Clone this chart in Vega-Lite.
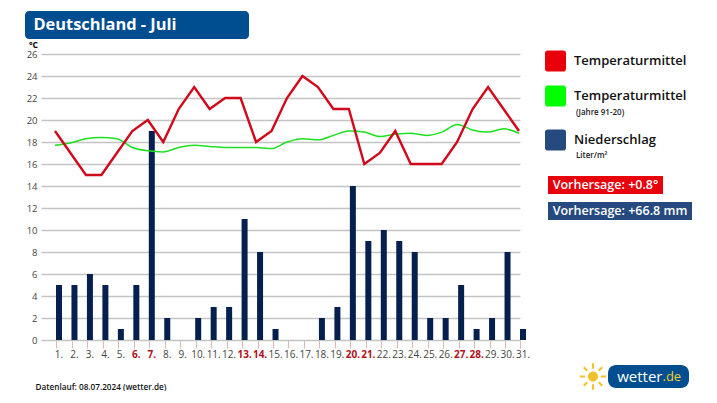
{
  "$schema": "https://vega.github.io/schema/vega-lite/v6.json",
  "background": "white",
  "padding": {"left": 25, "top": 11, "right": 0, "bottom": 0},
  "autosize": {"type": "pad"},
  "spacing": 1,
  "config": {"view": {"stroke": null}, "text": {"font": "Open Sans"}, "axis": {"labelFont": "Open Sans", "titleFont": "Open Sans"}},
  "datasets": {
    "days": [
      {"day": 1, "temp": 19, "normal": 17.7, "rain": 5},
      {"day": 2, "temp": 17, "normal": 17.9, "rain": 5},
      {"day": 3, "temp": 15, "normal": 18.3, "rain": 6},
      {"day": 4, "temp": 15, "normal": 18.4, "rain": 5},
      {"day": 5, "temp": 17, "normal": 18.3, "rain": 1},
      {"day": 6, "temp": 19, "normal": 17.5, "rain": 5},
      {"day": 7, "temp": 20, "normal": 17.2, "rain": 19},
      {"day": 8, "temp": 18, "normal": 17.1, "rain": 2},
      {"day": 9, "temp": 21, "normal": 17.5, "rain": 0},
      {"day": 10, "temp": 23, "normal": 17.7, "rain": 2},
      {"day": 11, "temp": 21, "normal": 17.6, "rain": 3},
      {"day": 12, "temp": 22, "normal": 17.5, "rain": 3},
      {"day": 13, "temp": 22, "normal": 17.5, "rain": 11},
      {"day": 14, "temp": 18, "normal": 17.5, "rain": 8},
      {"day": 15, "temp": 19, "normal": 17.4, "rain": 1},
      {"day": 16, "temp": 22, "normal": 18.0, "rain": 0},
      {"day": 17, "temp": 24, "normal": 18.3, "rain": 0},
      {"day": 18, "temp": 23, "normal": 18.2, "rain": 2},
      {"day": 19, "temp": 21, "normal": 18.6, "rain": 3},
      {"day": 20, "temp": 21, "normal": 19.0, "rain": 14},
      {"day": 21, "temp": 16, "normal": 18.9, "rain": 9},
      {"day": 22, "temp": 17, "normal": 18.5, "rain": 10},
      {"day": 23, "temp": 19, "normal": 18.7, "rain": 9},
      {"day": 24, "temp": 16, "normal": 18.8, "rain": 8},
      {"day": 25, "temp": 16, "normal": 18.6, "rain": 2},
      {"day": 26, "temp": 16, "normal": 18.9, "rain": 2},
      {"day": 27, "temp": 18, "normal": 19.6, "rain": 5},
      {"day": 28, "temp": 21, "normal": 19.1, "rain": 1},
      {"day": 29, "temp": 23, "normal": 18.9, "rain": 2},
      {"day": 30, "temp": 21, "normal": 19.2, "rain": 8},
      {"day": 31, "temp": 19, "normal": 18.8, "rain": 1}
    ],
    "legend": [
      {"order": 0, "label": "Temperaturmittel", "kind": "main", "swatch": "#e8000b"},
      {"order": 1, "label": "Temperaturmittel", "kind": "main", "swatch": "#00ff00"},
      {"order": 2, "label": "(Jahre 91-20)", "kind": "sub"},
      {"order": 3, "label": "Niederschlag", "kind": "main", "swatch": "#264a80"},
      {"order": 4, "label": "Liter/m²", "kind": "sub"}
    ]
  },
  "vconcat": [
    {
      "width": 224,
      "height": 28,
      "view": {"fill": "#004d90", "cornerRadius": 4},
      "data": {"values": [{"label": "Deutschland - Juli"}]},
      "mark": {"type": "text", "fontSize": 16.4, "fontWeight": "bold", "color": "white", "dx": -32, "dy": 0},
      "encoding": {"text": {"field": "label"}}
    },
    {
      "bounds": "flush",
      "spacing": 0,
      "hconcat": [
        {"width": 16, "height": 308, "data": {"values": [{}]}, "mark": {"type": "text"}},
        {
          "width": 479,
          "height": 286,
          "data": {"name": "days"},
          "encoding": {
            "x": {
              "field": "day",
              "type": "quantitative",
              "scale": {"domain": [0.095, 31.065], "nice": false, "zero": false, "padding": 0},
              "axis": {
                "title": null,
                "grid": false,
                "domain": false,
                "values": [1,2,3,4,5,6,7,8,9,10,11,12,13,14,15,16,17,18,19,20,21,22,23,24,25,26,27,28,29,30,31],
                "labelExpr": "datum.value + '.'",
                "labelFlush": false,
                "labelOverlap": false,
                "labelFontSize": 10,
                "labelPadding": 1,
                "labelOffset": 2,
                "tickOffset": 1.5,
                "tickSize": 8,
                "tickColor": "#dcb8b8",
                "labelColor": {"condition": {"test": "indexof([6,7,13,14,20,21,27,28], datum.value) >= 0", "value": "#b01020"}, "value": "#444444"},
                "labelFontWeight": {"condition": {"test": "indexof([6,7,13,14,20,21,27,28], datum.value) >= 0", "value": "bold"}, "value": "normal"}
              }
            }
          },
          "layer": [
            {
              "mark": {"type": "bar", "width": 6, "xOffset": 4, "color": "#05204f"},
              "encoding": {
                "y": {
                  "field": "rain",
                  "type": "quantitative",
                  "scale": {"domain": [0, 26], "nice": false},
                  "axis": {
                    "title": "°C",
                    "titleAngle": 0,
                    "titleX": -8,
                    "titleY": -5,
                    "titleFontSize": 8.5,
                    "titleFontWeight": "bold",
                    "titleColor": "#000000",
                    "values": [0,2,4,6,8,10,12,14,16,18,20,22,24,26],
                    "domain": false,
                    "ticks": false,
                    "labelOverlap": false,
                    "labelFontSize": 9.5,
                    "labelColor": "#444444",
                    "labelPadding": 4,
                    "gridColor": "#c4c4c4",
                    "gridWidth": 1.4,
                    "zindex": 0
                  }
                }
              }
            },
            {
              "mark": {"type": "line", "color": "#1fe01f", "strokeWidth": 1.5, "interpolate": "monotone"},
              "encoding": {
                "y": {
                  "field": "normal",
                  "type": "quantitative",
                  "axis": {
                    "title": "°C",
                    "titleAngle": 0,
                    "titleX": -8,
                    "titleY": -5,
                    "titleFontSize": 8.5,
                    "titleFontWeight": "bold",
                    "titleColor": "#000000",
                    "values": [0,2,4,6,8,10,12,14,16,18,20,22,24,26],
                    "domain": false,
                    "ticks": false,
                    "labelOverlap": false,
                    "labelFontSize": 9.5,
                    "labelColor": "#444444",
                    "labelPadding": 4,
                    "gridColor": "#c4c4c4",
                    "gridWidth": 1.4,
                    "zindex": 0
                  }
                }
              }
            },
            {
              "mark": {"type": "line", "color": "#d00a1c", "strokeWidth": 2.4},
              "encoding": {
                "y": {
                  "field": "temp",
                  "type": "quantitative",
                  "axis": {
                    "title": "°C",
                    "titleAngle": 0,
                    "titleX": -8,
                    "titleY": -5,
                    "titleFontSize": 8.5,
                    "titleFontWeight": "bold",
                    "titleColor": "#000000",
                    "values": [0,2,4,6,8,10,12,14,16,18,20,22,24,26],
                    "domain": false,
                    "ticks": false,
                    "labelOverlap": false,
                    "labelFontSize": 9.5,
                    "labelColor": "#444444",
                    "labelPadding": 4,
                    "gridColor": "#c4c4c4",
                    "gridWidth": 1.4,
                    "zindex": 0
                  }
                }
              }
            }
          ]
        },
        {"width": 28, "height": 1, "data": {"values": [{}]}, "mark": {"type": "text"}},
        {
          "bounds": "flush",
          "spacing": 8,
          "vconcat": [
            {
              "width": 150,
              "height": 114,
              "data": {"name": "legend"},
              "encoding": {
                "y": {
                  "field": "order",
                  "type": "quantitative",
                  "axis": null,
                  "scale": {"domain": [0, 1, 2, 3, 4], "range": [7, 42, 59, 86, 102], "nice": false, "zero": false}
                }
              },
              "layer": [
                {
                  "transform": [{"filter": "datum.swatch"}],
                  "mark": {"type": "point", "filled": true, "opacity": 1, "size": 441, "shape": "M-0.75,-1 H0.75 A0.25,0.25 0 0 1 1,-0.75 V0.75 A0.25,0.25 0 0 1 0.75,1 H-0.75 A0.25,0.25 0 0 1 -1,0.75 V-0.75 A0.25,0.25 0 0 1 -0.75,-1 Z"},
                  "encoding": {
                    "x": {"datum": 7.5, "type": "quantitative", "scale": {"domain": [0, 150], "nice": false}, "axis": null},
                    "color": {"field": "swatch", "type": "nominal", "scale": null}
                  }
                },
                {
                  "transform": [{"filter": "datum.kind == 'main'"}],
                  "mark": {"type": "text", "align": "left", "fontSize": 13, "fontWeight": 600, "color": "#111111"},
                  "encoding": {"x": {"datum": 26, "type": "quantitative"}, "text": {"field": "label"}}
                },
                {
                  "transform": [{"filter": "datum.kind == 'sub'"}],
                  "mark": {"type": "text", "align": "left", "fontSize": 8, "fontWeight": 600, "color": "#222222"},
                  "encoding": {"x": {"datum": 28, "type": "quantitative"}, "text": {"field": "label"}}
                }
              ]
            },
            {
              "width": 115,
              "height": 18,
              "view": {"fill": "#e8000b"},
              "data": {"values": [{"label": "Vorhersage: +0.8°"}]},
              "mark": {"type": "text", "fontSize": 12.5, "fontWeight": 600, "color": "white"},
              "encoding": {"text": {"field": "label"}}
            },
            {
              "width": 144,
              "height": 18,
              "view": {"fill": "#264a80"},
              "data": {"values": [{"label": "Vorhersage: +66.8 mm"}]},
              "mark": {"type": "text", "fontSize": 12.5, "fontWeight": 600, "color": "white"},
              "encoding": {"text": {"field": "label"}}
            }
          ]
        }
      ]
    },
    {
      "bounds": "flush",
      "spacing": 0,
      "hconcat": [
        {
          "width": 553,
          "height": 23,
          "data": {"values": [{"label": "Datenlauf: 08.07.2024 (wetter.de)"}]},
          "mark": {"type": "text", "align": "left", "fontSize": 8.2, "fontWeight": 600, "color": "#111111", "dx": -266, "dy": 11},
          "encoding": {"text": {"field": "label"}}
        },
        {
          "width": 30,
          "height": 23,
          "data": {"values": [{"label": "sun"}]},
          "mark": {"type": "point", "filled": true, "opacity": 1, "size": 700, "color": "#f2c22e", "shape": "M0.38,0 A0.38,0.38 0 1 1 -0.38,0 A0.38,0.38 0 1 1 0.38,0 Z M-0.08,-1 H0.08 V-0.58 H-0.08 Z M-0.08,0.58 H0.08 V1 H-0.08 Z M-1,-0.08 H-0.58 V0.08 H-1 Z M0.58,-0.08 H1 V0.08 H0.58 Z M-0.75,-0.64 L-0.64,-0.75 L-0.38,-0.49 L-0.49,-0.38 Z M0.64,-0.75 L0.75,-0.64 L0.49,-0.38 L0.38,-0.49 Z M-0.64,0.75 L-0.75,0.64 L-0.49,0.38 L-0.38,0.49 Z M0.75,0.64 L0.64,0.75 L0.38,0.49 L0.49,0.38 Z"}
        },
        {
          "width": 81,
          "height": 23,
          "view": {"fill": "#004d90", "cornerRadius": 8},
          "data": {"values": [{"a": "wetter", "b": ".de"}]},
          "layer": [
            {
              "mark": {"type": "text", "align": "right", "fontSize": 15, "color": "white", "dx": 14},
              "encoding": {"text": {"field": "a"}}
            },
            {
              "mark": {"type": "text", "align": "left", "fontSize": 13, "color": "#f2d22e", "dx": 14},
              "encoding": {"text": {"field": "b"}}
            }
          ]
        }
      ]
    }
  ]
}
